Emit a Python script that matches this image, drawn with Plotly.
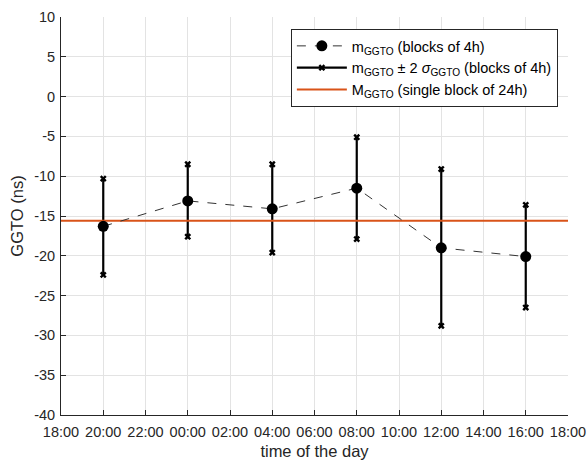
import plotly.graph_objects as go

times = ["2020-01-01 20:00", "2020-01-02 00:00", "2020-01-02 04:00",
         "2020-01-02 08:00", "2020-01-02 12:00", "2020-01-02 16:00"]
mean_vals = [-16.3, -13.1, -14.1, -11.5, -19.0, -20.1]
upper_vals = [-10.3, -8.5, -8.5, -5.1, -9.1, -13.6]
lower_vals = [-22.4, -17.6, -19.6, -17.9, -28.8, -26.5]
overall_mean = -15.6
x_start = "2020-01-01 18:00"
x_end = "2020-01-02 18:00"
y_ticks = [-40, -35, -30, -25, -20, -15, -10, -5, 0, 5, 10]
y_tick_labels = ["-40", "-35", "-30", "-25", "-20", "-15", "-10", "-5", "0", "5", "10"]

ex, ey = [], []
for t, lo, hi in zip(times, lower_vals, upper_vals):
    ex += [t, t, None]
    ey += [lo, hi, None]

font = "Liberation Sans, Arial, sans-serif"
fig = go.Figure()
fig.add_trace(go.Scatter(
    x=ex, y=ey, mode="lines+markers",
    line=dict(color="black", width=2.2),
    marker=dict(symbol="x", size=6, color="black"),
    name="m<sub>GGTO</sub> ± 2 <i>σ</i><sub>GGTO</sub> (blocks of 4h)",
    legendrank=2,
))
fig.add_trace(go.Scatter(
    x=[x_start, x_end], y=[overall_mean, overall_mean], mode="lines",
    line=dict(color="#D95319", width=2),
    name="M<sub>GGTO</sub> (single block of 24h)",
    legendrank=3,
))
fig.add_trace(go.Scatter(
    x=times, y=mean_vals, mode="lines+markers",
    line=dict(color="#333333", width=1, dash="dash"),
    marker=dict(symbol="circle", size=11, color="black"),
    name="m<sub>GGTO</sub> (blocks of 4h)",
    legendrank=1,
))

fig.update_layout(
    width=587, height=464,
    margin=dict(l=61, r=19, t=17, b=49),
    paper_bgcolor="white", plot_bgcolor="white",
    font=dict(family=font, size=14.5, color="#262626"),
    showlegend=True,
    legend=dict(
        x=0.98, y=0.97, xanchor="right", yanchor="top",
        bgcolor="white", bordercolor="#262626", borderwidth=1,
        font=dict(size=14.5, color="black"),
        tracegroupgap=0, itemwidth=50,
    ),
    xaxis=dict(
        type="date", range=[x_start, x_end], automargin=False,
        dtick=2 * 3600 * 1000, tick0=x_start, tickformat="%H:%M",
        showgrid=True, gridcolor="#e3e3e3", gridwidth=1,
        showline=True, linecolor="#262626", linewidth=1,
        ticks="inside", ticklen=5, tickcolor="#262626",
        ticklabelstandoff=4,
        title=dict(text="time of the day", font=dict(size=16.5), standoff=6),
        tickfont=dict(size=14.5),
        zeroline=False,
    ),
    yaxis=dict(
        range=[-40, 10], automargin=False,
        tickmode="array", tickvals=y_ticks, ticktext=y_tick_labels,
        showgrid=True, gridcolor="#e3e3e3", gridwidth=1,
        showline=True, linecolor="#262626", linewidth=1,
        ticks="inside", ticklen=5, tickcolor="#262626",
        ticklabelstandoff=2,
        title=dict(text="GGTO (ns)", font=dict(size=16.5), standoff=6),
        tickfont=dict(size=14.5),
        zeroline=False,
    ),
)
fig.write_html("out.html")
